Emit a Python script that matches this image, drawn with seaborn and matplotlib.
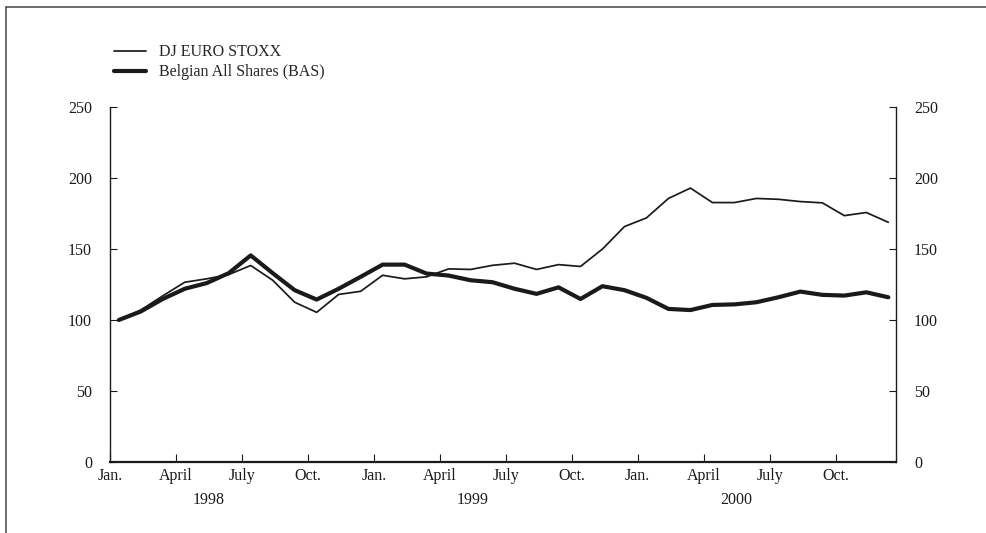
import numpy as np
import pandas as pd
import matplotlib
matplotlib.use("Agg")
import matplotlib.pyplot as plt
from matplotlib.lines import Line2D
import seaborn as sns

# Monthly index values, Jan 1998 - Dec 2000 (Jan 1998 = 100)
euro_stoxx = [100, 107, 117, 126.6, 129, 132, 138.4, 128, 112.5, 105.4, 118, 120.2,
              131.5, 129, 130.4, 136, 135.6, 138.5, 140, 135.6, 139, 137.7, 150, 165.8,
              171.9, 185.6, 192.9, 182.7, 182.7, 185.6, 185, 183.4, 182.5, 173.5, 175.7, 168.8]
bas = [100, 106, 114.8, 122, 126, 133, 145.5, 133, 121, 114.4, 122, 130.4,
       139, 139, 132.7, 131.3, 128, 126.6, 122, 118.4, 123, 114.8, 123.8, 121,
       115.6, 107.8, 107, 110.6, 111, 112.5, 116, 120, 117.7, 117.2, 119.5, 116]
quarter_labels = ["Jan.", "April", "July", "Oct."] * 3
years = ["1998", "1999", "2000"]
y_ticks = [0, 50, 100, 150, 200, 250]

sns.set_theme(style="white")
plt.rcParams['font.family'] = ['Liberation Serif', 'DejaVu Serif']
plt.rcParams['font.size'] = 11.5

month_pos = np.arange(len(bas)) + 0.4

fig = plt.figure(figsize=(9.86, 5.33), dpi=100)
ax = fig.add_axes([110 / 986, 71 / 533, 786 / 986, 355 / 533])

sns.lineplot(x=month_pos, y=euro_stoxx, ax=ax, color="#1a1a1a", linewidth=1.25,
             label="DJ EURO STOXX")
sns.lineplot(x=month_pos, y=bas, ax=ax, color="#1a1a1a", linewidth=3.0,
             label="Belgian All Shares (BAS)")

ax.set_xlim(0, 35.75)
ax.set_ylim(0, 250)
ax.set_xticks(np.arange(0, 36, 3))
ax.set_xticklabels(quarter_labels)
ax.set_yticks(y_ticks)
ax.tick_params(axis='y', direction='in', left=True, right=True, labelleft=True,
               labelright=True, length=5, width=0.8, pad=13, colors="#1a1a1a",
               labelsize=11.5)
ax.tick_params(axis='x', direction='in', bottom=True, length=6, width=0.8, pad=4,
               colors="#1a1a1a", labelsize=11.5)

for side in ['left', 'right', 'bottom']:
    ax.spines[side].set_visible(True)
    ax.spines[side].set_color("#1a1a1a")
    ax.spines[side].set_linewidth(1.0)
ax.spines['bottom'].set_linewidth(1.6)
ax.spines['top'].set_visible(False)
ax.set_xlabel("")
ax.set_ylabel("")

for k, yr in enumerate(years):
    ax.text(12 * k + 4.5, -0.107, yr, transform=ax.get_xaxis_transform(),
            ha='center', va='center', fontsize=11.5, color="#1a1a1a")

leg = ax.legend(loc='upper left', bbox_to_anchor=(108 / 986, 1 - 38 / 533),
                bbox_transform=fig.transFigure, frameon=False, handlelength=2.0,
                handletextpad=0.8, labelspacing=0.25, fontsize=11.5, borderaxespad=0)

# outer frame of the figure (top and left edges)
fig.add_artist(Line2D([6 / 986, 1], [1 - 7 / 533, 1 - 7 / 533], color="#444444",
                      linewidth=1.1, transform=fig.transFigure))
fig.add_artist(Line2D([6 / 986, 6 / 986], [0, 1 - 7 / 533], color="#444444",
                      linewidth=1.1, transform=fig.transFigure))

fig.savefig("out.png", dpi=100)
